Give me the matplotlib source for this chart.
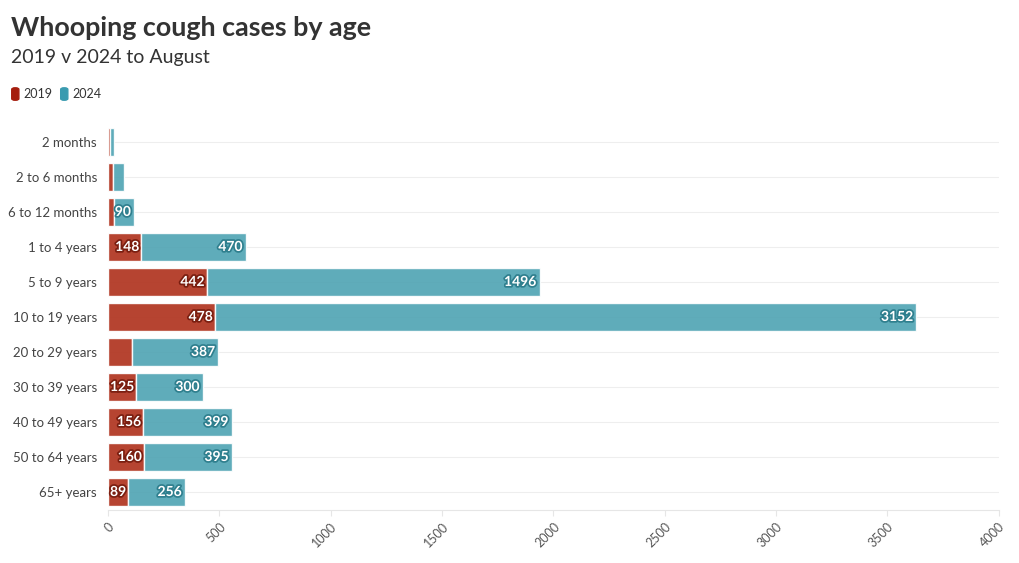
import matplotlib.pyplot as plt
import matplotlib.patheffects as pe
from matplotlib.patches import FancyBboxPatch

plt.rcParams['font.family'] = ['Lato', 'DejaVu Sans']

# datos
ages = ['2 months', '2 to 6 months', '6 to 12 months', '1 to 4 years', '5 to 9 years',
        '10 to 19 years', '20 to 29 years', '30 to 39 years', '40 to 49 years',
        '50 to 64 years', '65+ years']
cases_2019 = [8, 24, 27, 148, 442, 478, 107, 125, 156, 160, 89]
cases_2024 = [19, 48, 90, 470, 1496, 3152, 387, 300, 399, 395, 256]
# etiquetas que aparecen en el grafico original
labels_2019 = [None, None, None, '148', '442', '478', None, '125', '156', '160', '89']
labels_2024 = [None, None, '90', '470', '1496', '3152', '387', '300', '399', '395', '256']

red = '#b23a26'
teal = '#4ea3b3'

fig = plt.figure(figsize=(10.2, 5.63), dpi=100)
ax = fig.add_axes([0.106, 0.095, 0.873, 0.684])

y = list(range(len(ages)))
b1 = ax.barh(y, cases_2019, height=0.82, color=red, alpha=0.95,
             edgecolor='white', linewidth=1)
b2 = ax.barh(y, cases_2024, left=cases_2019, height=0.82, color=teal, alpha=0.9,
             edgecolor='white', linewidth=1)

ax.set_ylim(len(ages) - 0.5, -0.5)
ax.set_xlim(0, 4000)
ax.set_yticks(y)
ax.set_yticklabels(ages, fontsize=9.5, color='#444444')
ax.set_xticks(range(0, 4001, 500))
ax.set_xticklabels([str(v) for v in range(0, 4001, 500)], rotation=45,
                   ha='right', rotation_mode='anchor', fontsize=9, color='#555555')
ax.tick_params(axis='y', length=0, pad=8)
ax.tick_params(axis='x', length=4, color='#e6e6e6', pad=4)

for s in ['top', 'right', 'left']:
    ax.spines[s].set_visible(False)
ax.spines['bottom'].set_color('#e6e6e6')

for yy in y:
    ax.axhline(yy, color='#eeeeee', linewidth=0.8, zorder=0)

# etiquetas de valores
for i in y:
    if labels_2019[i]:
        ax.text(cases_2019[i] - 8, i, labels_2019[i], ha='right', va='center',
                fontsize=10, fontweight='bold', color='white',
                path_effects=[pe.withStroke(linewidth=2.5, foreground='#7a1e10')])
    if labels_2024[i]:
        ax.text(cases_2019[i] + cases_2024[i] - 14, i, labels_2024[i], ha='right',
                va='center', fontsize=10, fontweight='bold', color='white',
                path_effects=[pe.withStroke(linewidth=2.5, foreground='#2f7f8e')])

fig.text(0.0105, 0.95, 'Whooping cough cases by age', fontsize=19.4, fontweight='bold',
         color='#333333', va='center')
fig.text(0.0105, 0.897, '2019 v 2024 to August', fontsize=14, color='#333333',
         va='center')

# leyenda
for x0, col, lab in [(0.0115, '#a51e0e', '2019'), (0.0595, '#3a9bb0', '2024')]:
    fig.patches.append(FancyBboxPatch((x0, 0.822), 0.007, 0.022,
                                      boxstyle='round,pad=0,rounding_size=0.003',
                                      transform=fig.transFigure, color=col))
    fig.text(x0 + 0.011, 0.833, lab, fontsize=9, color='#333333', va='center')

plt.savefig('out.png', dpi=100)
